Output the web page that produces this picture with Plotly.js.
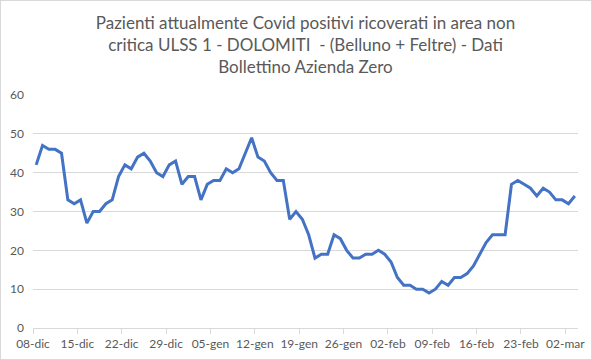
<!DOCTYPE html>
<html><head><meta charset="utf-8">
<script src="https://cdn.plot.ly/plotly-3.0.1.min.js"></script>
<style>
html,body{margin:0;padding:0;background:#fff;}
#wrap{position:relative;width:592px;height:360px;}
#chart{width:592px;height:360px;}
#frame{position:absolute;left:0;top:0;width:590px;height:358px;border:1px solid #d9d9d9;pointer-events:none;}
</style></head>
<body>
<div id="wrap"><div id="chart"></div><div id="frame"></div></div>
<script>
const startDate = '2020-12-08';
const ricoverati = [42,47,46,46,45,33,32,33,27,30,30,32,33,39,42,41,44,45,43,40,39,42,43,37,39,39,33,37,38,38,41,40,41,45,49,44,43,40,38,38,28,30,28,24,18,19,19,24,23,20,18,18,19,19,20,19,17,13,11,11,10,10,9,10,12,11,13,13,14,16,19,22,24,24,24,37,38,37,36,34,36,35,33,33,32,34];
const tickDates = ['2020-12-08','2020-12-15','2020-12-22','2020-12-29','2021-01-05','2021-01-12','2021-01-19','2021-01-26','2021-02-02','2021-02-09','2021-02-16','2021-02-23','2021-03-02'];
const tickLabels = ['08-dic','15-dic','22-dic','29-dic','05-gen','12-gen','19-gen','26-gen','02-feb','09-feb','16-feb','23-feb','02-mar'];
const yTicks = [0,10,20,30,40,50,60];

const days = [];
const t0 = Date.parse(startDate + 'T12:00:00Z');
for (let i = 0; i < ricoverati.length; i++) {
  const d = new Date(t0 + i*86400000);
  days.push(d.toISOString().slice(0,10) + ' 12:00');
}

const font = 'Lato, "Open Sans", sans-serif';
Plotly.newPlot('chart', [{
  x: days, y: ricoverati, type: 'scatter', mode: 'lines',
  line: {color: '#4472C4', width: 3}, hoverinfo: 'skip'
}], {
  width: 592, height: 360,
  margin: {l: 33, r: 14, t: 95, b: 32},
  paper_bgcolor: '#fff', plot_bgcolor: '#fff',
  showlegend: false,
  title: {text: 'Pazienti attualmente Covid positivi ricoverati in area non<br>critica ULSS 1 - DOLOMITI  - (Belluno + Feltre) - Dati<br>Bollettino Azienda Zero',
    font: {family: font, size: 17, color: '#595959', lineposition: 'none'}, x: 0.5, xanchor: 'center', xref: 'paper',
    yref: 'container', y: 0.92, yanchor: 'middle'},
  xaxis: {type: 'date', range: ['2020-12-08 00:00', '2021-03-04 00:00'],
    tickvals: tickDates, ticktext: tickLabels, tickangle: 0,
    showgrid: false, zeroline: false, showline: true, linecolor: '#d9d9d9', linewidth: 1,
    ticks: 'outside', ticklen: 5, tickcolor: '#d9d9d9', tickwidth: 1,
    tickfont: {family: font, size: 12, color: '#595959'}},
  yaxis: {range: [0, 60], tickvals: yTicks, showgrid: true, gridcolor: '#d9d9d9', gridwidth: 1,
    zeroline: false, showline: false, ticks: '', ticklabelstandoff: 8,
    tickfont: {family: font, size: 12, color: '#595959'}}
}, {staticPlot: true});
</script>
</body></html>
